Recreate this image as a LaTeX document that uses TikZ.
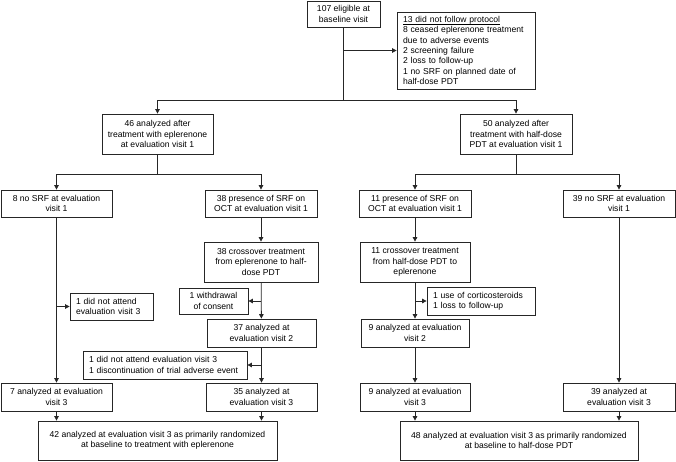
\documentclass[tikz,border=0pt]{standalone}
\usepackage{fontspec}
\setmainfont{Liberation Sans}
\usetikzlibrary{arrows.meta,calc}
\newcommand\bx[7]{\node[box,minimum width={#4-#2},minimum height={#5-#3},#6] (#1) at ({(#2+#4)/2},{(#3+#5)/2}) {#7};}
\newcommand\ulin[1]{\underline{\smash{#1}}\vphantom{#1}}
\begin{document}
\begin{tikzpicture}[x=1pt,y=-1pt,
  box/.style={draw=black!85,line width=0.8pt,rectangle,inner sep=0pt,align=center,
    font=\fontsize{8.6}{10.4}\selectfont},
  lbox/.style={align=left,inner xsep=6pt},
  ln/.style={draw=black!85,line width=0.8pt},
  arr/.style={ln,-{Triangle[length=4.5pt,width=4.5pt]}}]
\useasboundingbox (0,0) rectangle (676,461);
% boxes
\bx{top}{307}{1}{380}{27}{}{107 eligible at\\baseline visit}
\bx{excl}{397}{12}{535}{89}{lbox,text width=126}{\ulin{13 did not follow protocol}\\8 ceased eplerenone treatment\\due to adverse events\\2 screening failure\\2 loss to follow-up\\1 no SRF on planned date of\\half-dose PDT}
\bx{a46}{102}{114}{213}{154}{}{46 analyzed after\\treatment with eplerenone\\at evaluation visit 1}
\bx{b50}{460}{114}{572}{154}{}{50 analyzed after\\treatment with half-dose\\PDT at evaluation visit 1}
\bx{n8}{1}{190}{112}{217}{}{8 no SRF at evaluation\\visit 1}
\bx{p38}{205}{190}{317}{217}{}{38 presence of SRF on\\OCT at evaluation visit 1}
\bx{p11}{359}{190}{471}{217}{}{11 presence of SRF on\\OCT at evaluation visit 1}
\bx{n39}{563}{190}{675}{217}{}{39 no SRF at evaluation\\visit 1}
\bx{c38}{204}{242}{318}{282}{}{38 crossover treatment\\from eplerenone to half-\\dose PDT}
\bx{c11}{360}{242}{470}{282}{}{11 crossover treatment\\from half-dose PDT to\\eplerenone}
\bx{wd}{179}{288}{248}{314}{}{1 withdrawal\\of consent}
\bx{cs}{427}{287}{535}{315}{lbox,text width=96}{1 use of corticosteroids\\1 loss to follow-up}
\bx{a37}{207}{319}{316}{347}{}{37 analyzed at\\evaluation visit 2}
\bx{a9b}{361}{319}{469}{347}{}{9 analyzed at evaluation\\visit 2}
\bx{na1}{70}{293}{153}{320}{lbox,text width=71}{1 did not attend\\evaluation visit 3}
\bx{na2}{83}{351}{247}{379}{lbox,text width=152}{1 did not attend evaluation visit 3\\1 discontinuation of trial adverse event}
\bx{a7}{1}{383}{112}{411}{}{7 analyzed at evaluation\\visit 3}
\bx{a35}{206}{383}{317}{411}{}{35 analyzed at\\evaluation visit 3}
\bx{a9c}{360}{383}{470}{411}{}{9 analyzed at evaluation\\visit 3}
\bx{a39}{563}{383}{675}{411}{}{39 analyzed at\\evaluation visit 3}
\bx{f42}{38}{421}{277}{460}{}{42 analyzed at evaluation visit 3 as primarily randomized\\at baseline to treatment with eplerenone}
\bx{f48}{400}{421}{638}{460}{}{48 analyzed at evaluation visit 3 as primarily randomized\\at baseline to half-dose PDT}
% connectors
\coordinate (s0) at ($(top.south)+(0,73)$);
\draw[ln] (top.south) -- (s0);
\draw[arr] (top.south |- excl.west) -- (excl.west);
\draw[arr] (s0) -| (a46.north);
\draw[arr] (s0) -| (b50.north);
\coordinate (s1) at ($(a46.south)+(0,20)$);
\draw[ln] (a46.south) -- (s1);
\draw[arr] (s1) -| (n8.north);
\draw[arr] (s1) -| (p38.north);
\coordinate (s2) at ($(b50.south)+(0,20)$);
\draw[ln] (b50.south) -- (s2);
\draw[arr] (s2) -| (p11.north);
\draw[arr] (s2) -| (n39.north);
\draw[arr] (p38) -- (c38);
\draw[arr] (p11) -- (c11);
\draw[arr] (c38) -- (a37);
\draw[arr] (c38.south |- wd.east) -- (wd.east);
\draw[arr] (c11) -- (a9b);
\draw[arr] (c11.south |- cs.west) -- (cs.west);
\draw[arr] (a37) -- (a35);
\draw[arr] (a37.south |- na2.east) -- (na2.east);
\draw[arr] (a9b) -- (a9c);
\draw[arr] (n8) -- (a7);
\draw[arr] (n8.south |- na1.west) -- (na1.west);
\draw[arr] (n39) -- (a39);
\draw[arr] (a7.south) -- (a7.south |- f42.north);
\draw[arr] (a35.south) -- (a35.south |- f42.north);
\draw[arr] (a9c.south) -- (a9c.south |- f48.north);
\draw[arr] (a39.south) -- (a39.south |- f48.north);
\end{tikzpicture}
\end{document}
